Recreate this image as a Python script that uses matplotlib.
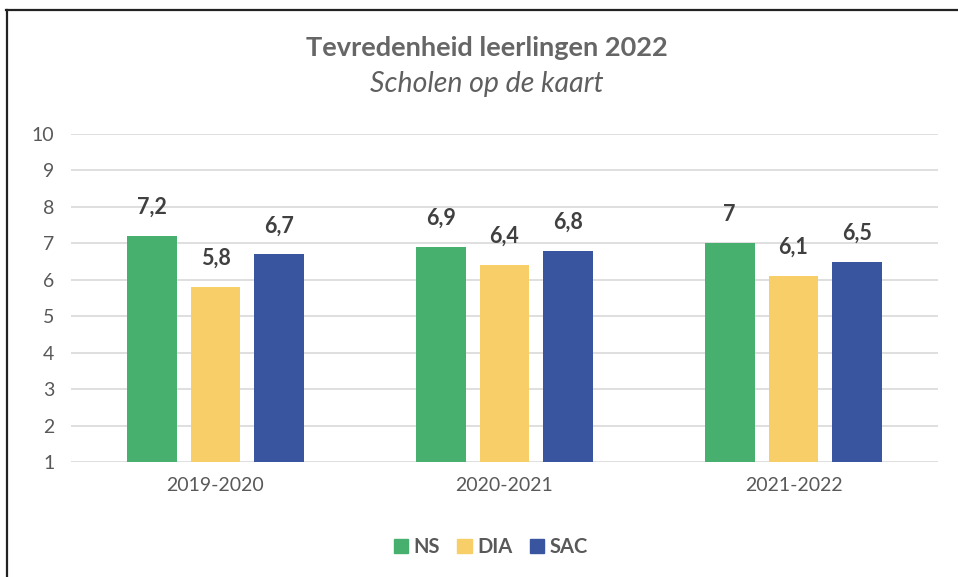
import matplotlib.pyplot as plt
from matplotlib.lines import Line2D
from matplotlib.patches import Patch
import numpy as np

plt.rcParams['font.family'] = ['Lato', 'DejaVu Sans']

# data
years = ['2019-2020', '2020-2021', '2021-2022']
series = ['NS', 'DIA', 'SAC']
ns = [7.2, 6.9, 7.0]
dia = [5.8, 6.4, 6.1]
sac = [6.7, 6.8, 6.5]
labels_txt = [['7,2', '6,9', '7'], ['5,8', '6,4', '6,1'], ['6,7', '6,8', '6,5']]
colors = ['#48B06E', '#F7CE68', '#3A55A0']

W, H = 958, 577
fig = plt.figure(figsize=(W / 100, H / 100), dpi=100)
ax = fig.add_axes([71 / W, 1 - 462 / H, (938 - 71) / W, (462 - 134) / H])

x = np.arange(len(years))
width = 0.173
step = 0.221
for i, (vals, col) in enumerate(zip([ns, dia, sac], colors)):
    pos = x + (i - 1) * step
    ax.bar(pos, np.array(vals) - 1, width, bottom=1, color=col, zorder=3)
    for p, v, t in zip(pos, vals, labels_txt[i]):
        ax.annotate(t, (p, v), xytext=(0, 13), textcoords='offset points',
                    ha='center', va='bottom', fontsize=15.5, fontweight='bold',
                    color='#404040')

ax.set_xlim(-0.5, 2.5)
ax.set_ylim(1, 10)
ax.set_yticks(range(1, 11))
ax.set_xticks(x)
ax.set_xticklabels(years)
ax.tick_params(axis='both', length=0, labelsize=14, colors='#595959')
ax.tick_params(axis='y', pad=12)
ax.tick_params(axis='x', pad=11)
ax.grid(axis='y', color='#D9D9D9', linewidth=1.2, zorder=0)
for s in ax.spines.values():
    s.set_visible(False)

fig.text(487 / W, 1 - 48 / H, 'Tevredenheid leerlingen 2022', ha='center', va='center',
         fontsize=19.5, fontweight='bold', color='#666666')
fig.text(487 / W, 1 - 84 / H, 'Scholen op de kaart', ha='center', va='center',
         fontsize=20.5, fontstyle='italic', color='#5f5f5f')

handles = [Patch(color=c) for c in colors]
leg = fig.legend(handles, series, loc='center', bbox_to_anchor=(491 / W, 1 - 547 / H),
                 ncol=3, frameon=False, handlelength=0.7, handleheight=0.7,
                 handletextpad=0.3, columnspacing=0.85,
                 prop={'size': 14.5, 'weight': 'bold'})
for t in leg.get_texts():
    t.set_color('#595959')

# frame lines (top and left)
fig.add_artist(Line2D([6 / W, 1], [1 - 9.5 / H, 1 - 9.5 / H], color='#222222', linewidth=1.6))
fig.add_artist(Line2D([7 / W, 7 / W], [0, 1 - 9.5 / H], color='#222222', linewidth=1.6))

fig.savefig('out.png', dpi=100, facecolor='white')
